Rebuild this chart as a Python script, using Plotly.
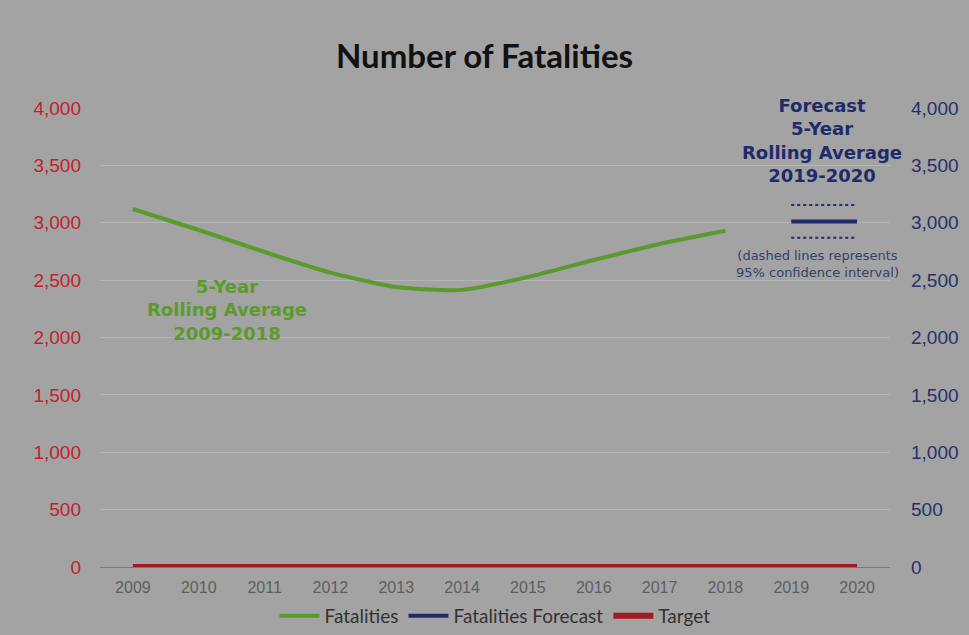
import plotly.graph_objects as go

# Five-year rolling average of fatalities, 2009-2018
years = [2009, 2010, 2011, 2012, 2013, 2014, 2015, 2016, 2017, 2018]
fatalities = [3120, 2937, 2745, 2565, 2440, 2415, 2527, 2675, 2815, 2930]

# Forecast 2019-2020 with 95% confidence bounds
forecast_years = [2019, 2020]
forecast = [3010, 3010]
forecast_upper = [3155, 3155]
forecast_lower = [2870, 2870]

# Target line across the full period
target_years = list(range(2009, 2021))
target = [0] * len(target_years)

tick_years = list(range(2009, 2021))
y_ticks = [0, 500, 1000, 1500, 2000, 2500, 3000, 3500, 4000]
y_labels = [f"{v:,}" for v in y_ticks]

GREEN = "#5b9a2c"
NAVY = "#1f2a6b"
RED = "#a11b22"
BG = "#a3a3a3"

fig = go.Figure()

fig.add_trace(go.Scatter(
    x=years, y=fatalities, mode="lines", name="Fatalities",
    line=dict(color=GREEN, width=4, shape="spline", smoothing=0.6),
))
fig.add_trace(go.Scatter(
    x=forecast_years, y=forecast, mode="lines", name="Fatalities Forecast",
    line=dict(color=NAVY, width=4),
))
fig.add_trace(go.Scatter(
    x=forecast_years, y=forecast_upper, mode="lines", showlegend=False,
    line=dict(color=NAVY, width=2, dash="dot"),
))
fig.add_trace(go.Scatter(
    x=forecast_years, y=forecast_lower, mode="lines", showlegend=False,
    line=dict(color=NAVY, width=2, dash="dot"),
))
fig.add_trace(go.Scatter(
    x=target_years, y=target, mode="lines", name="Target",
    line=dict(color=RED, width=6), cliponaxis=False,
))
# invisible trace to drive the right-hand axis
fig.add_trace(go.Scatter(
    x=[tick_years[0]], y=[0], yaxis="y2", mode="markers",
    marker=dict(opacity=0), showlegend=False, hoverinfo="skip",
))

fig.add_annotation(
    x=2010.43, y=2240, xref="x", yref="y", showarrow=False,
    text="<b>5-Year<br>Rolling Average<br>2009-2018</b>",
    font=dict(family="DejaVu Sans", size=18, color=GREEN),
)
fig.add_annotation(
    x=2019.47, y=3720, xref="x", yref="y", showarrow=False,
    text="<b>Forecast<br>5-Year<br>Rolling Average<br>2019-2020</b>",
    font=dict(family="DejaVu Sans", size=18, color=NAVY),
)
fig.add_annotation(
    x=2019.4, y=2640, xref="x", yref="y", showarrow=False,
    text="(dashed lines represents<br>95% confidence interval)",
    font=dict(family="DejaVu Sans", size=13, color="#34406a"),
)

fig.update_layout(
    width=969, height=635,
    margin=dict(l=100, r=79, t=108, b=68),
    paper_bgcolor=BG, plot_bgcolor=BG,
    title=dict(
        text="<b>Number of Fatalities</b>", x=0.5, xanchor="center",
        y=1 - 56 / 635, yanchor="middle",
        font=dict(family="Lato", size=33, color="#111111"),
    ),
    xaxis=dict(
        range=[2008.5, 2020.5], tickmode="array", tickvals=tick_years,
        ticktext=[str(y) for y in tick_years], showgrid=False,
        showline=True, linecolor="#7a7a7a", linewidth=1, zeroline=False,
        tickfont=dict(family="Liberation Sans", size=16, color="#5e5e5e"),
        ticks="", ticklabelstandoff=6, automargin=False,
    ),
    yaxis=dict(
        range=[0, 4000], tickmode="array", tickvals=y_ticks, ticktext=y_labels,
        showgrid=True, gridcolor="rgba(200,200,200,0.5)", gridwidth=1,
        zeroline=False, ticks="", ticklabelstandoff=18, automargin=False,
        tickfont=dict(family="Liberation Sans", size=19, color="#c4202c"),
    ),
    yaxis2=dict(
        range=[0, 4000], tickmode="array", tickvals=y_ticks, ticktext=y_labels,
        overlaying="y", side="right", showgrid=False, zeroline=False,
        ticks="", ticklabelstandoff=20, automargin=False,
        tickfont=dict(family="Liberation Sans", size=19, color="#27306b"),
    ),
    legend=dict(
        orientation="h", x=0.5, xanchor="center",
        yref="container", y=(635 - 616) / 635, yanchor="middle",
        font=dict(family="Lato", size=19, color="#333333"),
        bgcolor="rgba(0,0,0,0)", itemwidth=40, tracegroupgap=0,
    ),
    showlegend=True,
)

fig.write_html("out.html")
